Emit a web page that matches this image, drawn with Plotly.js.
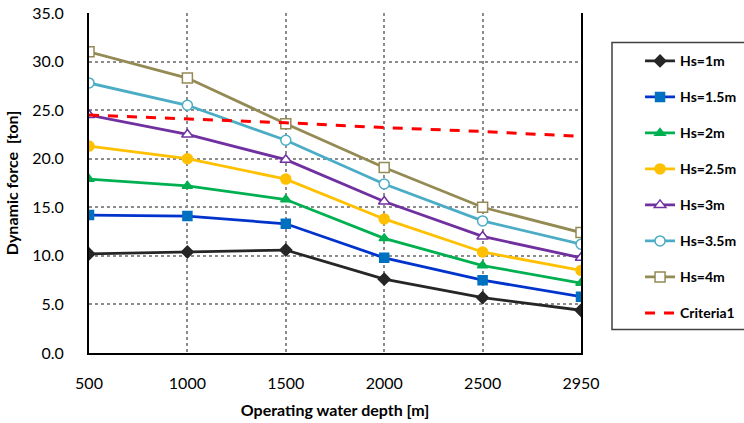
<!DOCTYPE html>
<html><head><meta charset="utf-8">
<script src="https://cdn.plot.ly/plotly-3.0.1.min.js"></script>
<style>html,body{margin:0;padding:0;background:#fff}#c{width:744px;height:423px}</style>
</head><body><div id="c"></div>
<script>
const depths = ["500","1000","1500","2000","2500","2950"];
const hs1   = [10.2, 10.4, 10.6, 7.6, 5.7, 4.4];
const hs15  = [14.2, 14.1, 13.3, 9.8, 7.5, 5.8];
const hs2   = [17.9, 17.2, 15.8, 11.8, 9.0, 7.2];
const hs25  = [21.3, 20.0, 17.9, 13.8, 10.4, 8.5];
const hs3   = [24.5, 22.5, 19.9, 15.6, 12.0, 9.8];
const hs35  = [27.8, 25.5, 21.9, 17.4, 13.6, 11.2];
const hs4   = [31.0, 28.3, 23.6, 19.1, 15.0, 12.4];
const criteria1 = [24.5, 24.1, 23.7, 23.2, 22.8, 22.3];
const seriesNames = ["Hs=1m","Hs=1.5m","Hs=2m","Hs=2.5m","Hs=3m","Hs=3.5m","Hs=4m","Criteria1"];
const yTicks = [0,5,10,15,20,25,30,35];

const FONT = "Lato, 'Open Sans', sans-serif";
function tr(name, y, lineColor, sym, mColor, mFill, mSize, grp){
  return {x: depths, y: y, name: name, type: 'scatter', mode: 'lines+markers',
    legendgroup: grp,
    line: {color: lineColor, width: 2.8},
    marker: {symbol: sym, size: mSize, color: mFill, line: {color: mColor, width: 1.5}}};
}
const data = [
  tr(seriesNames[0], hs1, '#262626', 'diamond', '#262626', '#262626', 9, 'g1'),
  tr(seriesNames[1], hs15, '#0033CC', 'square', '#0070C0', '#0070C0', 9, 'g2'),
  tr(seriesNames[2], hs2, '#00B050', 'triangle-up', '#00B050', '#00B050', 9, 'g3'),
  tr(seriesNames[3], hs25, '#FFC000', 'circle', '#FFC000', '#FFC000', 10, 'g4'),
  tr(seriesNames[4], hs3, '#7030A0', 'triangle-up', '#7030A0', '#ffffff', 10, 'g5'),
  tr(seriesNames[5], hs35, '#4BACC6', 'circle', '#4BACC6', '#ffffff', 10, 'g6'),
  tr(seriesNames[6], hs4, '#948A54', 'square', '#948A54', '#ffffff', 10, 'g7'),
  {x: depths, y: criteria1, name: seriesNames[7], type: 'scatter', mode: 'lines', legendgroup: 'g8',
   line: {color: '#FF0000', width: 3, dash: '10px,9px'}}
];
const layout = {
  width: 744, height: 423,
  margin: {l: 89, r: 163, t: 13, b: 70, autoexpand: false},
  paper_bgcolor: '#fff', plot_bgcolor: '#fff',
  font: {family: FONT, color: '#000'},
  showlegend: true,
  legend: {x: 1.12, y: 0.905, xanchor: 'left', yanchor: 'top', tracegroupgap: 14.8,
    font: {family: FONT, size: 14, color: '#000', weight: 'bold'},
    bgcolor: 'rgba(0,0,0,0)', borderwidth: 0, itemwidth: 30},
  xaxis: {type: 'category', range: [0, 5], showline: true, linecolor: '#000', linewidth: 2,
    showgrid: true, gridcolor: '#8c8c8c', gridwidth: 2, griddash: 'dot',
    ticks: '', ticklabelstandoff: 15, tickfont: {size: 16, family: FONT, color: '#000'},
    title: {text: 'Operating water depth [m]', font: {size: 16, family: FONT, weight: 'bold', color: '#000'}, standoff: 14},
    zeroline: false, fixedrange: true},
  yaxis: {range: [0, 35], tickvals: yTicks, tickformat: '.1f', showline: true, mirror: true,
    linecolor: '#000', linewidth: 2, showgrid: true, gridcolor: '#8c8c8c', gridwidth: 2, griddash: 'dot',
    ticks: '', ticklabelstandoff: 20, tickfont: {size: 16, family: FONT, color: '#000'},
    title: {text: 'Dynamic force  [ton]', font: {size: 16, family: FONT, weight: 'bold', color: '#000'}, standoff: 10},
    zeroline: false, fixedrange: true},
  shapes: [
    {type: 'rect', xref: 'paper', yref: 'paper', x0: 1.063, x1: 1.35, y0: 0.069, y1: 0.9135,
     line: {color: '#404040', width: 1.5}, fillcolor: 'rgba(0,0,0,0)', layer: 'above'}
  ]
};
Plotly.newPlot('c', data, layout, {displayModeBar: false, staticPlot: true});
</script></body></html>
